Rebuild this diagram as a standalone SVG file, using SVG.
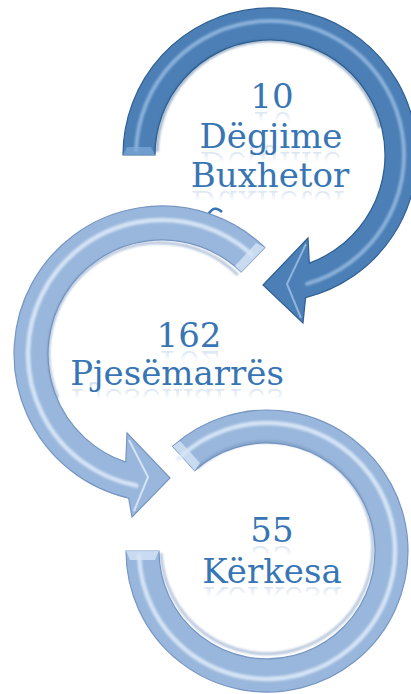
<svg xmlns="http://www.w3.org/2000/svg" xmlns:xlink="http://www.w3.org/1999/xlink" width="411" height="694" viewBox="0 0 411 694">
<defs>
<style>
.dark{fill:#4b7fb6;stroke:#2f5f92;stroke-width:1.2}
.light{fill:#99b7dc;stroke:#7696c2;stroke-width:1.2}
.hlD{fill:none;stroke:#a7c8ea;stroke-width:4;opacity:.7;stroke-linecap:round;filter:url(#soft)}
.hlL{fill:none;stroke:#e0ecf9;stroke-width:4.5;opacity:.85;stroke-linecap:round;filter:url(#soft)}
.shD{fill:none;stroke:#2b5685;stroke-width:3;opacity:.45;filter:url(#soft)}
.shL{fill:none;stroke:#6f8fbb;stroke-width:3;opacity:.5;filter:url(#soft)}
.facD{fill:#7faad8;opacity:.7}
.facL{fill:#d4e3f5;opacity:.8}
.ridgeD{fill:none;stroke:#a9cbee;stroke-width:2;opacity:.7;stroke-linejoin:round}
.ridgeL{fill:none;stroke:#e2eefa;stroke-width:2;opacity:.8;stroke-linejoin:round}
.lbl{font-family:"DejaVu Serif","Liberation Serif",serif;font-size:34px;fill:#3875b5;text-anchor:middle}
</style>
<filter id="soft" x="-10%" y="-10%" width="120%" height="120%">
<feGaussianBlur stdDeviation="1"/>
</filter>
<linearGradient id="fg" x1="0" y1="0" x2="0" y2="1">
<stop offset="0" stop-color="#fff" stop-opacity="0"/>
<stop offset="0.55" stop-color="#fff" stop-opacity="0"/>
<stop offset="0.85" stop-color="#fff" stop-opacity="0.22"/>
<stop offset="1" stop-color="#fff" stop-opacity="0.22"/>
</linearGradient>
<mask id="refl" maskContentUnits="objectBoundingBox">
<rect x="0" y="0" width="1" height="1" fill="url(#fg)"/>
</mask>
</defs>

<g id="node-1">
<path class="dark" d="M123,155 A147,147 0 1 1 305.6,297.6 L303,323 L263,285 L308,238 L309.3,263.1 A115,115 0 1 0 155,155 Z"/>
<path class="shD" d="M157,152 A113,113 0 0 1 380,128"/>
<path class="hlD" d="M136.1,150.3 A134,134 0 1 1 306.9,283.8"/>
<polygon class="facD" points="123,155 155,155 151,147 127,147"/>
<polyline class="ridgeD" points="306,244 287,284 301,318"/>
<text class="lbl" id="t1" x="272" y="108">10</text>
<text class="lbl" id="t2" x="271" y="148">Dëgjime</text>
<text class="lbl" id="t3" x="270" y="187">Buxhetor</text>
<use xlink:href="#t1" transform="translate(0,220) scale(1,-1)" mask="url(#refl)"/>
<use xlink:href="#t2" transform="translate(0,300) scale(1,-1)" mask="url(#refl)"/>
<use xlink:href="#t3" transform="translate(0,378) scale(1,-1)" mask="url(#refl)"/>
<path d="M208,215 Q214,204 222,212" fill="none" stroke="#3875b5" stroke-width="2.5"/>
</g>

<g id="node-2">
<path class="light" d="M264.8,247.5 A148,148 0 1 0 128.7,498.2 L132,517 L170,478 L127,433 L125.8,462.1 A114,114 0 1 1 241.2,272 Z"/>
<path class="shL" d="M238,275 A111,111 0 0 0 58,398"/>
<path class="hlL" d="M251.7,254.4 A134,134 0 1 0 136.4,485.5"/>
<polygon class="facL" points="264.8,247.5 241.2,272 235,266 256,243"/>
<polyline class="ridgeL" points="129,440 148,477 134,511"/>
<text class="lbl" id="t4" x="189" y="347">162</text>
<text class="lbl" id="t5" x="177" y="385">Pjesëmarrës</text>
<use xlink:href="#t4" transform="translate(0,698) scale(1,-1)" mask="url(#refl)"/>
<use xlink:href="#t5" transform="translate(0,774) scale(1,-1)" mask="url(#refl)"/>
</g>

<g id="node-3">
<path class="light" d="M172.7,446.2 A141,141 0 1 1 126,551 L159,551 A108,108 0 1 0 194.7,470.7 Z"/>
<path class="shL" d="M197,468 A106,106 0 1 1 161,553"/>
<path class="hlL" d="M178.1,458.9 A128,128 0 1 1 139.1,555.5"/>
<polygon class="facL" points="172.7,446.2 194.7,470.7 200,463 180,441"/>
<polygon class="facL" points="126,551 159,551 155,560 130,560"/>
<text class="lbl" id="t6" x="272" y="542">55</text>
<text class="lbl" id="t7" x="272" y="583">Kërkesa</text>
<use xlink:href="#t6" transform="translate(0,1088) scale(1,-1)" mask="url(#refl)"/>
<use xlink:href="#t7" transform="translate(0,1170) scale(1,-1)" mask="url(#refl)"/>
</g>

<g id="connectors"></g>
</svg>
